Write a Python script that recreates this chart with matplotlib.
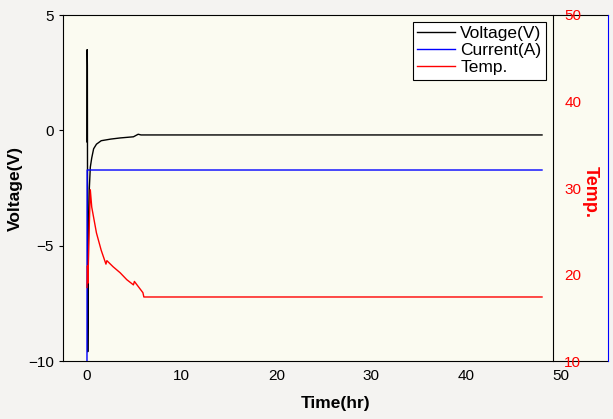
import matplotlib
matplotlib.use('Agg')
import matplotlib.pyplot as plt

plt.rcParams['font.family'] = ['Liberation Sans', 'DejaVu Sans']

# values
volt_t = [0, 0.02, 0.04, 0.08, 0.15, 0.25, 0.35, 0.5, 0.7, 1.0, 1.5, 2.5, 3.5, 4.9, 5.4, 5.7, 48.0]
volt_v = [-0.5, 3.5, 2.8, -9.6, -5.0, -2.5, -1.6, -1.2, -0.8, -0.6, -0.45, -0.38, -0.33, -0.28, -0.17, -0.2, -0.2]

curr_t = [0, 0.02, 48.0]
curr_a = [0, 0.552, 0.552]

temp_t = [0, 0.05, 0.1, 0.2, 0.35, 0.5, 1.0, 1.5, 2.0, 2.1, 2.75, 3.5, 4.2, 4.9, 5.0, 5.9, 6.0, 48.0]
temp_c = [18.5, 21.0, 19.0, 24.0, 29.8, 27.8, 24.8, 22.8, 21.2, 21.6, 20.9, 20.2, 19.4, 18.8, 19.2, 17.9, 17.4, 17.4]

fig = plt.figure(figsize=(6.13, 4.19), dpi=100)
fig.patch.set_facecolor('#f4f3f1')
ax = fig.add_axes([63/613, 1-361/419, 545/613, 346/419])
ax.set_facecolor('#fbfbf1')

l1, = ax.plot(volt_t, volt_v, color='black', lw=1, label='Voltage(V)')
ax.set_xlim(-2.53, 54.96)
ax.set_ylim(-10, 5)
ax.set_xticks([0, 10, 20, 30, 40, 50])
ax.set_yticks([-10, -5, 0, 5])
ax.tick_params(direction='out', length=3, labelsize=11)
ax.tick_params(axis='x', length=0, pad=6)
ax.spines['right'].set_visible(False)
ax.set_xlabel('Time(hr)', fontsize=12.5, fontweight='bold', labelpad=9)
ax.set_ylabel('Voltage(V)', fontsize=12.5, fontweight='bold')
ax.yaxis.set_label_coords((23 - 63) / 545, 0.5)

# current axis: blue spine at the far right, no ticks
ax3 = ax.twinx()
l2, = ax3.plot(curr_t, curr_a, color='blue', lw=1, label='Current(A)')
ax3.set_ylim(0, 1)
ax3.set_yticks([])
ax3.spines['right'].set_color('blue')
for s in ['left', 'top', 'bottom']:
    ax3.spines[s].set_visible(False)

# temperature axis with its spine inside
ax2 = ax.twinx()
l3, = ax2.plot(temp_t, temp_c, color='red', lw=1, label='Temp.')
ax2.set_ylim(10, 50)
ax2.set_yticks([10, 20, 30, 40, 50])
ax2.spines['right'].set_position(('data', 49.16))
for s in ['left', 'top', 'bottom']:
    ax2.spines[s].set_visible(False)
ax2.tick_params(axis='y', length=0, pad=8, labelsize=11, labelcolor='red')
fig.text(590/613, 1-192/419, 'Temp.', color='red', fontsize=13, fontweight='bold',
         rotation=270, ha='center', va='center')

leg = ax.legend(handles=[l1, l2, l3], loc='upper right',
                bbox_to_anchor=(546/613, 1-22/419), bbox_transform=fig.transFigure,
                borderaxespad=0, fancybox=False, framealpha=1, edgecolor='black',
                fontsize=12.5, handlelength=2.2, labelspacing=0.1,
                borderpad=0.25, handletextpad=0.3)
leg.get_frame().set_linewidth(0.8)

fig.savefig('out.png', dpi=100, facecolor=fig.get_facecolor())
